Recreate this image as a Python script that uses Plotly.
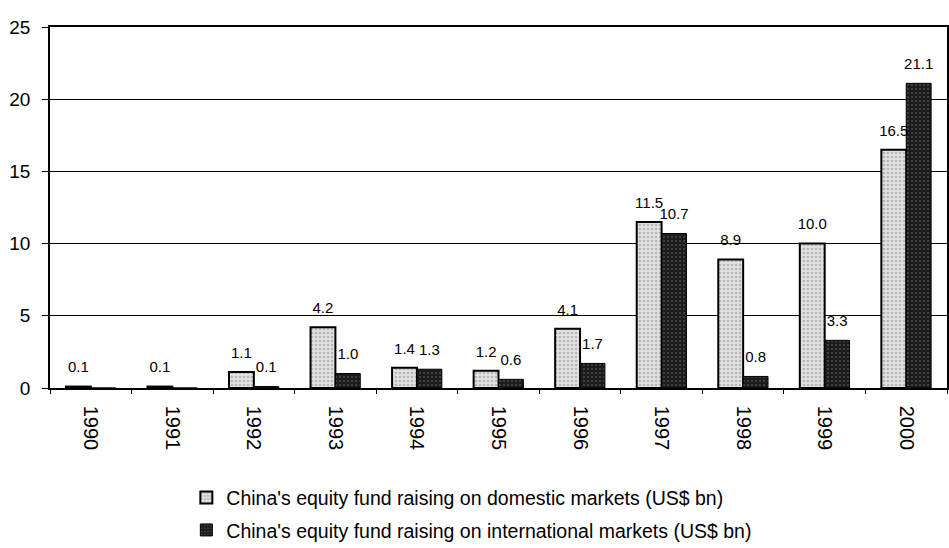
import plotly.graph_objects as go

years = ["1990", "1991", "1992", "1993", "1994", "1995", "1996", "1997", "1998", "1999", "2000"]
domestic = [0.1, 0.1, 1.1, 4.2, 1.4, 1.2, 4.1, 11.5, 8.9, 10.0, 16.5]
international = [0.0, 0.0, 0.1, 1.0, 1.3, 0.6, 1.7, 10.7, 0.8, 3.3, 21.1]
y_ticks = [0, 5, 10, 15, 20, 25]

def fmt(vals):
    return [f"{v:.1f}" if v > 0 else "" for v in vals]

font_family = "Liberation Sans, Arial, sans-serif"
dom_name = "China's equity fund raising on domestic markets (US$ bn)"
int_name = "China's equity fund raising on international markets (US$ bn)"

fig = go.Figure()
fig.add_trace(go.Bar(
    x=years, y=domestic, name=dom_name, legendgroup="dom", offsetgroup="dom",
    marker=dict(color="#e2e2e2", line=dict(color="black", width=2),
                pattern=dict(shape=".", fgcolor="#8a8a8a", size=4, solidity=0.35)),
))
fig.add_trace(go.Bar(
    x=years, y=international, name=int_name, legendgroup="int", offsetgroup="int",
    marker=dict(color="#1c1c1c", line=dict(color="black", width=1),
                pattern=dict(shape=".", fgcolor="#7a7a7a", size=4, solidity=0.2)),
))
# value labels, aligned with the grouped bars
for vals, grp in ((domestic, "dom"), (international, "int")):
    fig.add_trace(go.Scatter(
        x=years, y=vals, text=fmt(vals), mode="markers+text", textposition="top center",
        offsetgroup=grp, legendgroup=grp, showlegend=False, hoverinfo="skip", cliponaxis=False,
        marker=dict(size=15, color="rgba(0,0,0,0)"),
        textfont=dict(size=15, color="black", family=font_family),
    ))

fig.update_layout(
    width=949, height=548,
    margin=dict(l=50, r=2, t=27, b=160),
    paper_bgcolor="white", plot_bgcolor="white",
    barmode="group", bargap=0.39, bargroupgap=0.0,
    scattermode="group", scattergap=0.39,
    font=dict(family=font_family, size=16, color="black"),
    showlegend=True,
    legend=dict(orientation="v", x=0.152, xanchor="left", yref="container", y=0.127,
                yanchor="top", font=dict(size=19.5, family=font_family), tracegroupgap=4,
                itemwidth=30, bgcolor="rgba(0,0,0,0)"),
)
fig.update_xaxes(
    type="category", tickangle=90, tickson="boundaries", ticks="outside", ticklen=4,
    tickcolor="black", showline=True, linecolor="black", linewidth=1.5, mirror=True,
    tickfont=dict(size=20), showgrid=False, automargin=False, ticklabelstandoff=12,
)
fig.update_yaxes(
    range=[0, 25], tickvals=y_ticks, ticks="outside", ticklen=6, tickcolor="black",
    showline=True, linecolor="black", linewidth=1.5, mirror=True,
    showgrid=True, gridcolor="black", gridwidth=1.2, zeroline=False,
    tickfont=dict(size=19), automargin=False, ticklabelstandoff=8,
)

# remove the default page margin so the figure sits at the window's top-left corner
fig.write_html("out.html", config={"displayModeBar": False},
               post_script="document.body.style.margin='0';document.body.style.overflow='hidden';")
